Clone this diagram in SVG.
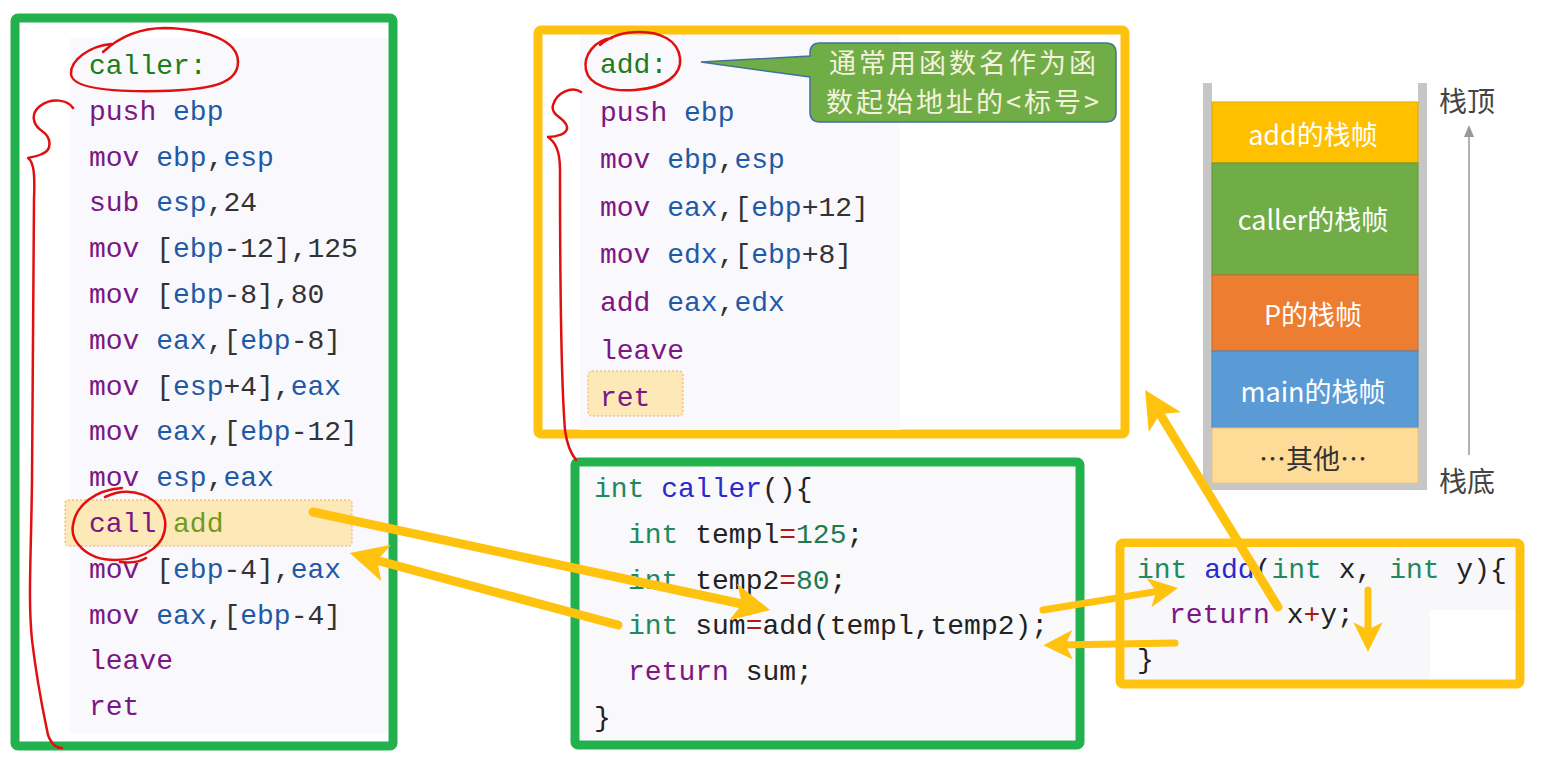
<svg xmlns="http://www.w3.org/2000/svg" width="1565" height="770" viewBox="0 0 1565 770">
<defs>
<style>
.code{font-family:"Liberation Mono","DejaVu Sans Mono",monospace;font-size:28px;fill:#333}
.kw{fill:#7b1683}.reg{fill:#1f5aa6}.lbl{fill:#1b7d1b}.fn{fill:#6f9a1e}
.ty{fill:#1f8a5e}.nm{fill:#2a2ad0}.op{fill:#b01818}.num{fill:#1f7a52}.id{fill:#222}
.red{fill:none;stroke:#e01010;stroke-width:2.5;stroke-linecap:round;stroke-linejoin:round}
.ya{stroke:#ffc20e;stroke-width:9;stroke-linecap:round;fill:none}
.yt{stroke:#ffc20e;stroke-width:7;stroke-linecap:round;fill:none}
.stk{font-family:"Noto Sans CJK SC","Noto Sans",sans-serif;font-size:27px;fill:#fff;text-anchor:middle;dominant-baseline:central}
.side{font-family:"Noto Sans CJK SC","Noto Sans",sans-serif;font-size:28px;fill:#444;dominant-baseline:central}
.co{font-family:"Noto Sans CJK SC","Noto Sans",sans-serif;font-size:27px;letter-spacing:3px;fill:#f4f1dc;text-anchor:middle}
.gbox{fill:#fff;stroke:#22b14c;stroke-width:9}
.ybox{fill:#fff;stroke:#ffc20e;stroke-width:9}
.hl{fill:#fde8b8;stroke:#e8a860;stroke-width:1;stroke-dasharray:2 2}
</style>
<marker id="ah" viewBox="0 0 10 10" refX="5" refY="5" markerWidth="4.2" markerHeight="4.2" orient="auto" markerUnits="strokeWidth">
<path d="M0,0 L10,5 L0,10 L2.5,5 z" fill="#ffc20e"/>
</marker>
</defs>
<rect width="1565" height="770" fill="#fff"/>

<g id="caller-asm">
<rect class="gbox" x="15" y="18" width="378" height="728" rx="3"/>
<rect x="70" y="38" width="318" height="695" fill="#f9f8fc"/>
<rect class="hl" x="65" y="500" width="287" height="46" rx="3"/>
<text class="code" x="89" y="74"><tspan class="lbl">caller:</tspan></text>
<text class="code" x="89" y="120"><tspan class="kw">push</tspan> <tspan class="reg">ebp</tspan></text>
<text class="code" x="89" y="166"><tspan class="kw">mov</tspan> <tspan class="reg">ebp</tspan>,<tspan class="reg">esp</tspan></text>
<text class="code" x="89" y="211"><tspan class="kw">sub</tspan> <tspan class="reg">esp</tspan>,24</text>
<text class="code" x="89" y="257"><tspan class="kw">mov</tspan> [<tspan class="reg">ebp</tspan>-12],125</text>
<text class="code" x="89" y="303"><tspan class="kw">mov</tspan> [<tspan class="reg">ebp</tspan>-8],80</text>
<text class="code" x="89" y="349"><tspan class="kw">mov</tspan> <tspan class="reg">eax</tspan>,[<tspan class="reg">ebp</tspan>-8]</text>
<text class="code" x="89" y="395"><tspan class="kw">mov</tspan> [<tspan class="reg">esp</tspan>+4],<tspan class="reg">eax</tspan></text>
<text class="code" x="89" y="440"><tspan class="kw">mov</tspan> <tspan class="reg">eax</tspan>,[<tspan class="reg">ebp</tspan>-12]</text>
<text class="code" x="89" y="486"><tspan class="kw">mov</tspan> <tspan class="reg">esp</tspan>,<tspan class="reg">eax</tspan></text>
<text class="code" x="89" y="532"><tspan class="kw">call</tspan> <tspan class="fn">add</tspan></text>
<text class="code" x="89" y="578"><tspan class="kw">mov</tspan> [<tspan class="reg">ebp</tspan>-4],<tspan class="reg">eax</tspan></text>
<text class="code" x="89" y="624"><tspan class="kw">mov</tspan> <tspan class="reg">eax</tspan>,[<tspan class="reg">ebp</tspan>-4]</text>
<text class="code" x="89" y="669"><tspan class="kw">leave</tspan></text>
<text class="code" x="89" y="715"><tspan class="kw">ret</tspan></text>
</g>

<g id="add-asm">
<rect class="ybox" x="538" y="30" width="587" height="404" rx="3"/>
<rect x="580" y="35" width="320" height="395" fill="#f9f8fc"/>
<rect class="hl" x="588" y="371" width="95" height="45" rx="4"/>
<text class="code" x="600" y="73"><tspan class="lbl">add:</tspan></text>
<text class="code" x="600" y="121"><tspan class="kw">push</tspan> <tspan class="reg">ebp</tspan></text>
<text class="code" x="600" y="168"><tspan class="kw">mov</tspan> <tspan class="reg">ebp</tspan>,<tspan class="reg">esp</tspan></text>
<text class="code" x="600" y="216"><tspan class="kw">mov</tspan> <tspan class="reg">eax</tspan>,[<tspan class="reg">ebp</tspan>+12]</text>
<text class="code" x="600" y="263"><tspan class="kw">mov</tspan> <tspan class="reg">edx</tspan>,[<tspan class="reg">ebp</tspan>+8]</text>
<text class="code" x="600" y="311"><tspan class="kw">add</tspan> <tspan class="reg">eax</tspan>,<tspan class="reg">edx</tspan></text>
<text class="code" x="600" y="359"><tspan class="kw">leave</tspan></text>
<text class="code" x="600" y="406"><tspan class="kw">ret</tspan></text>
</g>

<g id="callout">
<path d="M820,43 H1106 Q1116,43 1116,53 V112 Q1116,122 1106,122 H820 Q810,122 810,112 V77 L701,62 L810,56 V53 Q810,43 820,43 Z" fill="#70ad47" stroke="#41719c" stroke-width="1.5"/>
<text class="co" x="964" y="73">通常用函数名作为函</text>
<text class="co" x="964" y="112">数起始地址的&lt;标号&gt;</text>
</g>

<g id="caller-c">
<rect class="gbox" x="575" y="462" width="505" height="283" rx="3"/>
<rect x="580" y="467" width="495" height="273" fill="#f9f8fb"/>
<text class="code" x="594" y="497"><tspan class="ty">int</tspan> <tspan class="nm">caller</tspan><tspan class="id">(){</tspan></text>
<text class="code" x="628" y="543"><tspan class="ty">int</tspan> <tspan class="id">templ</tspan><tspan class="op">=</tspan><tspan class="num">125</tspan><tspan class="id">;</tspan></text>
<text class="code" x="628" y="589"><tspan class="ty">int</tspan> <tspan class="id">temp2</tspan><tspan class="op">=</tspan><tspan class="num">80</tspan><tspan class="id">;</tspan></text>
<text class="code" x="628" y="634"><tspan class="ty">int</tspan> <tspan class="id">sum</tspan><tspan class="op">=</tspan><tspan class="id">add(templ,temp2);</tspan></text>
<text class="code" x="628" y="680"><tspan class="kw">return</tspan> <tspan class="id">sum;</tspan></text>
<text class="code" x="594" y="726"><tspan class="id">}</tspan></text>
</g>

<g id="add-c">
<rect class="ybox" x="1120" y="543" width="400" height="141" rx="3"/>
<rect x="1125" y="547" width="390" height="132" fill="#f8f7fa"/>
<rect x="1430" y="610" width="85" height="69" fill="#fff"/>
<text class="code" x="1137" y="578"><tspan class="ty">int</tspan> <tspan class="nm">add</tspan><tspan class="id">(</tspan><tspan class="ty">int</tspan> <tspan class="id">x,</tspan> <tspan class="ty">int</tspan> <tspan class="id">y){</tspan></text>
<text class="code" x="1169" y="623"><tspan class="kw">return</tspan> <tspan class="id">x</tspan><tspan class="op">+</tspan><tspan class="id">y;</tspan></text>
<text class="code" x="1137" y="668"><tspan class="id">}</tspan></text>
</g>

<g id="stack">
<rect x="1203" y="83" width="9" height="407" fill="#c6c6c6"/>
<rect x="1418" y="83" width="9" height="407" fill="#c6c6c6"/>
<rect x="1203" y="483" width="224" height="7" fill="#c6c6c6"/>
<rect x="1212" y="102" width="206" height="61" fill="#ffc000" stroke="#e0a800" stroke-width="1"/>
<rect x="1212" y="163" width="206" height="112" fill="#70ad47" stroke="#5d9a3a" stroke-width="1"/>
<rect x="1212" y="275" width="206" height="76" fill="#ed7d31" stroke="#d06a25" stroke-width="1"/>
<rect x="1212" y="351" width="206" height="77" fill="#5b9bd5" stroke="#4a86bd" stroke-width="1"/>
<rect x="1212" y="428" width="206" height="55" fill="#fedb96" stroke="#e8c47e" stroke-width="1"/>
<text class="stk" x="1313" y="133">add的栈帧</text>
<text class="stk" x="1313" y="218">caller的栈帧</text>
<text class="stk" x="1313" y="313">P的栈帧</text>
<text class="stk" x="1313" y="390">main的栈帧</text>
<text class="stk" x="1313" y="457" style="fill:#333">…其他…</text>
<text class="side" x="1439" y="100">栈顶</text>
<text class="side" x="1439" y="480">栈底</text>
<line x1="1469" y1="455" x2="1469" y2="134" stroke="#999" stroke-width="1.5"/>
<polygon points="1469,125 1464,137 1474,137" fill="#999"/>
</g>

<g id="annotations">
<path class="red" d="M111,44 C90,46 70,60 71,74 C72,88 110,92 160,91 C210,90 238,84 238,62 C238,40 205,29 165,28 C138,28 118,38 103,52"/>
<path class="red" d="M73,108 C68,100 52,97 40,106 C30,114 33,125 42,131 C52,138 52,150 42,154 C36,157 30,157 28,158 C34,162 35,175 34,200 C33,300 33,400 32,480 C31,560 28,600 32,640 C38,690 45,720 48,735 C52,745 56,748 62,748"/>
<path class="red" d="M105,497 C130,485 160,495 165,520 C168,545 145,560 115,560 C85,560 70,540 73,525 C76,505 95,490 122,488"/>
<path class="red" d="M120,562 C130,563 140,562 146,558"/>
<path class="red" d="M612,38 C595,40 583,55 586,70 C589,85 610,92 635,90 C665,88 682,75 680,58 C678,40 660,32 640,32 C625,32 610,36 600,45"/>
<path class="red" d="M581,92 C572,86 557,92 553,105 C550,116 566,118 567,127 C568,134 556,137 548,137 C555,142 560,150 560,170 C560,280 561,380 565,430 C567,445 572,455 576,460"/>
</g>

<g id="connectors">
<line class="ya" x1="313" y1="512" x2="751.5" y2="606" marker-end="url(#ah)"/>
<line class="ya" x1="618" y1="625" x2="368" y2="558" marker-end="url(#ah)"/>
<line class="yt" x1="1043" y1="610" x2="1163.5" y2="590.4" marker-end="url(#ah)"/>
<line class="yt" x1="1175" y1="643" x2="1058" y2="645" marker-end="url(#ah)"/>
<line class="yt" x1="1368" y1="590" x2="1368" y2="637" marker-end="url(#ah)"/>
<line class="ya" x1="1278" y1="607" x2="1155" y2="406" marker-end="url(#ah)"/>
</g>
</svg>
